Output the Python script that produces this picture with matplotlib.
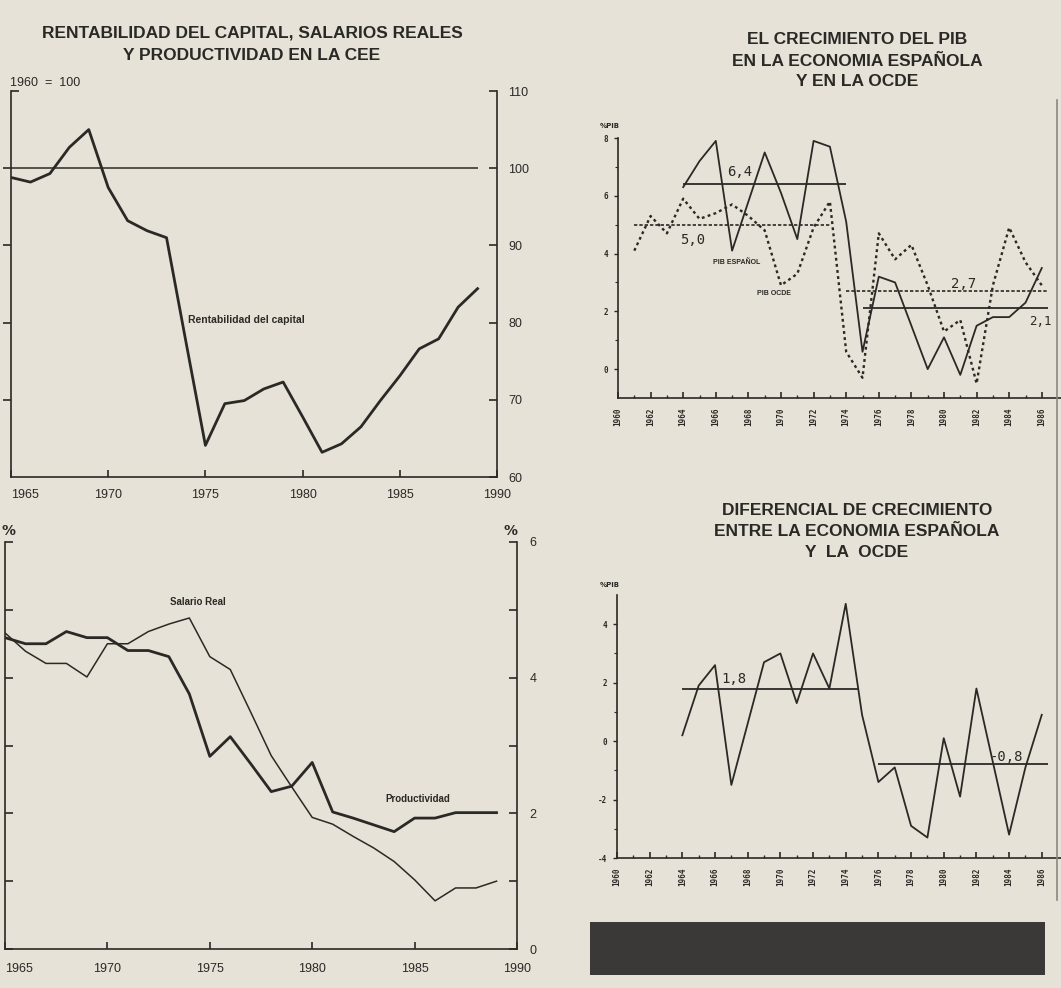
import matplotlib.pyplot as plt
import matplotlib.patches as mpatches

W, H = 1061, 988
PAPER = '#e6e2d7'
INK = '#2b2926'

# --- data -----------------------------------------------------------------
years_cee = list(range(1965, 1990))
rentabilidad = [98.8, 98.2, 99.3, 102.7, 105.0, 97.5, 93.2, 91.9, 91.0, 77.5,
                64.1, 69.5, 69.9, 71.4, 72.3, 67.8, 63.2, 64.3, 66.5, 69.9,
                73.1, 76.6, 77.9, 82.0, 84.4]
productividad = [4.59, 4.50, 4.50, 4.68, 4.59, 4.59, 4.40, 4.40, 4.31, 3.76,
                 2.84, 3.13, 2.73, 2.32, 2.40, 2.75, 2.02, 1.93, 1.83, 1.73,
                 1.93, 1.93, 2.01, 2.01, 2.01]
salario_real = [4.66, 4.39, 4.21, 4.21, 4.01, 4.50, 4.50, 4.68, 4.79, 4.88,
                4.31, 4.12, 3.49, 2.85, 2.39, 1.94, 1.84, 1.66, 1.49, 1.29,
                1.02, 0.71, 0.90, 0.90, 1.00]

years_es = list(range(1964, 1987))
pib_es = [6.3, 7.2, 7.9, 4.1, 5.8, 7.5, 6.1, 4.5, 7.9, 7.7, 5.1, 0.6,
          3.2, 3.0, 1.5, 0.0, 1.1, -0.2, 1.5, 1.8, 1.8, 2.3, 3.5]
years_ocde = list(range(1961, 1987))
pib_ocde = [4.1, 5.3, 4.7, 5.9, 5.2, 5.4, 5.7, 5.3, 4.8, 2.9, 3.3, 4.9, 5.8,
            0.6, -0.3, 4.7, 3.8, 4.3, 2.9, 1.3, 1.7, -0.5, 2.9, 4.9, 3.7, 2.9]
diferencial = [0.2, 1.9, 2.6, -1.5, 0.6, 2.7, 3.0, 1.3, 3.0, 1.8, 4.7, 0.9,
               -1.4, -0.9, -2.9, -3.3, 0.1, -1.9, 1.8, -0.7, -3.2, -0.9, 0.9]

# period averages: (from, to, value)
media_es = [(1964, 1974, 6.4), (1975, 1986.4, 2.1)]
media_ocde = [(1961, 1973, 5.0), (1974, 1986.4, 2.7)]
media_dif = [(1964, 1974.8, 1.8), (1976, 1986.4, -0.8)]

fig = plt.figure(figsize=(W / 100, H / 100), dpi=100, facecolor=PAPER)


def px_axes(x0, y0, x1, y1):
    ax = fig.add_axes([x0 / W, 1 - y1 / H, (x1 - x0) / W, (y1 - y0) / H])
    ax.set_facecolor('none')
    ax.spines['top'].set_visible(False)
    for s in ax.spines.values():
        s.set_color(INK)
        s.set_linewidth(1.2)
    return ax


def ftext(x, y, s, **kw):
    kw.setdefault('color', INK)
    fig.text(x / W, 1 - y / H, s, **kw)


TITLE = dict(fontsize=12.5, fontweight='bold', family='Liberation Sans',
             ha='center', va='center')
LBL = dict(family='Liberation Sans', fontsize=9, color=INK)

# --- top left: rentabilidad ------------------------------------------------
ax1 = px_axes(11, 91, 497, 477)
ax1.set_xlim(1965, 1990)
ax1.set_ylim(60, 110)
ax1.plot(years_cee, rentabilidad, color=INK, lw=2.0)
ax1.hlines(100, 1965, 1989, color=INK, lw=1.1)
ax1.spines['right'].set_visible(False)
ax1.set_xticks(range(1965, 1991, 5))
ax1.set_xticklabels(['1965', '1970', '1975', '1980', '1985', '1990'])
ax1.tick_params(axis='x', direction='in', length=5, width=1.2, pad=9, colors=INK)
for t in ax1.get_xticklabels():
    t.update(LBL)
ax1.set_yticks([70, 80, 90, 100])
ax1.set_yticks([110], minor=True)
ax1.tick_params(axis='y', which='major', direction='out', length=6, width=1.2,
                labelleft=False, colors=INK)
ax1.tick_params(axis='y', which='minor', direction='in', length=6, width=1.2,
                colors=INK)
sec1 = ax1.secondary_yaxis('right')
sec1.spines['right'].set_linewidth(1.2)
sec1.spines['right'].set_color(INK)
sec1.set_yticks(range(60, 111, 10))
sec1.tick_params(direction='in', length=6, width=1.2, pad=8, colors=INK)
for t in sec1.get_yticklabels():
    t.update(LBL)
ax1.text(1974.1, 80.3, 'Rentabilidad del capital', fontsize=7.5,
         fontweight='bold', family='Liberation Sans', color=INK, va='center')
ftext(10, 83, '1960  =  100', va='center', family='Liberation Sans', fontsize=9)
ftext(252, 33, 'RENTABILIDAD DEL CAPITAL, SALARIOS REALES', **TITLE)
ftext(252, 55, 'Y PRODUCTIVIDAD EN LA CEE', **TITLE)

# --- bottom left: salario real y productividad ------------------------------
ax2 = px_axes(5, 542, 517, 949)
ax2.set_xlim(1965, 1990)
ax2.set_ylim(0, 6)
ax2.plot(years_cee, salario_real, color=INK, lw=1.1)
ax2.plot(years_cee, productividad, color=INK, lw=2.0)
ax2.spines['right'].set_visible(False)
ax2.set_xticks(range(1965, 1991, 5))
ax2.set_xticklabels(['1965', '1970', '1975', '1980', '1985', '1990'])
ax2.tick_params(axis='x', direction='in', length=5, width=1.2, pad=10, colors=INK)
for t in ax2.get_xticklabels():
    t.update(LBL)
ax2.set_yticks(range(0, 7))
ax2.tick_params(axis='y', direction='in', length=6, width=1.2,
                labelleft=False, colors=INK)
sec2 = ax2.secondary_yaxis('right')
sec2.spines['right'].set_linewidth(1.2)
sec2.spines['right'].set_color(INK)
sec2.set_yticks(range(0, 7))
sec2.set_yticklabels(['0', '', '2', '', '4', '', '6'])
sec2.tick_params(direction='in', length=6, width=1.2, pad=9, colors=INK)
for t in sec2.get_yticklabels():
    t.update(LBL)
ax2.text(1973.06, 5.12, 'Salario Real', fontsize=7, fontweight='bold',
         family='Liberation Sans', color=INK, va='center')
ax2.text(1983.55, 2.21, 'Productividad', fontsize=7, fontweight='bold',
         family='Liberation Sans', color=INK, va='center')
ftext(9, 531, '%', fontsize=10, fontweight='bold', ha='center', va='center')
ftext(510, 531, '%', fontsize=10, fontweight='bold', ha='center', va='center')

# year labels at the left page edge: keep them inside the picture
for ax in (ax1, ax2):
    lab = ax.get_xticklabels()[0]
    lab.set_ha('left')
    lab.set_x(1965)

# --- right charts -----------------------------------------------------------
XMAX = 1960 + (W - 618) / 16.3
MONO = dict(family='DejaVu Sans Mono', fontweight='bold', color=INK)


def style_pib(ax, ylo, yhi, major):
    ax.set_xlim(1960, XMAX)
    ax.set_ylim(ylo, yhi)
    ax.spines['right'].set_visible(False)
    ax.set_xticks(range(1960, 1987, 2))
    ax.set_xticks(range(1961, 1987, 2), minor=True)
    ax.set_xticklabels([str(y) for y in range(1960, 1987, 2)], rotation=90,
                       fontsize=5.5, **MONO)
    ax.tick_params(axis='x', which='major', direction='in', length=4, width=1.2,
                   pad=7, colors=INK)
    ax.tick_params(axis='x', which='minor', direction='in', length=2.5,
                   width=1.0, colors=INK)
    ax.set_yticks(major)
    ax.set_yticks([v + 1 for v in major[:-1]], minor=True)
    ax.set_yticklabels([str(v) for v in major], fontsize=5.5, **MONO)
    ax.tick_params(axis='y', which='major', direction='out', length=3,
                   width=1.0, pad=4, colors=INK)
    ax.tick_params(axis='y', which='minor', direction='out', length=2,
                   width=0.8, colors=INK)


ax3 = px_axes(618, 138, W, 398)
style_pib(ax3, -1, 8, [0, 2, 4, 6, 8])
ax3.plot(years_es, pib_es, color=INK, lw=1.3)
ax3.plot(years_ocde, pib_ocde, color=INK, lw=1.7, ls=(0, (1.2, 1.4)))
for a, b, v in media_es:
    ax3.hlines(v, a, b, color=INK, lw=1.3)
for a, b, v in media_ocde:
    ax3.hlines(v, a, b, color=INK, lw=1.2, ls=(0, (2, 1.2)))
MT = dict(family='DejaVu Sans Mono', fontsize=10, color=INK, va='center')
ax3.text(1966.7, 6.83, '6,4', **MT)
ax3.text(1963.8, 4.48, '5,0', **MT)
ax3.text(1980.4, 2.93, '2,7', **MT)
ax3.text(1985.2, 1.66, '2,1', family='DejaVu Sans Mono', fontsize=9,
         color=INK, va='center')
ax3.text(1965.8, 3.69, 'PIB ESPAÑOL', fontsize=5, fontweight='bold',
         family='Liberation Sans', color=INK, va='center')
ax3.text(1968.5, 2.62, 'PIB OCDE', fontsize=5, fontweight='bold',
         family='Liberation Sans', color=INK, va='center')
ftext(610, 126, '%PIB', fontsize=5, fontweight='bold', ha='center', va='center')
ftext(857, 40, 'EL CRECIMIENTO DEL PIB', **TITLE)
ftext(857, 61, 'EN LA ECONOMIA ESPAÑOLA', **TITLE)
ftext(857, 82, 'Y EN LA OCDE', **TITLE)

ax4 = px_axes(617, 595, W, 858)
style_pib(ax4, -4, 5, [-4, -2, 0, 2, 4])
ax4.plot(years_es, diferencial, color=INK, lw=1.3)
for a, b, v in media_dif:
    ax4.hlines(v, a, b, color=INK, lw=1.3)
ax4.text(1966.4, 2.12, '1,8', **MT)
ax4.text(1982.8, -0.55, '-0,8', **MT)
ftext(610, 585, '%PIB', fontsize=5, fontweight='bold', ha='center', va='center')
ftext(857, 510, 'DIFERENCIAL DE CRECIMIENTO', **TITLE)
ftext(857, 531, 'ENTRE LA ECONOMIA ESPAÑOLA', **TITLE)
ftext(857, 552, 'Y  LA  OCDE', **TITLE)

# page fold at the right edge
fig.add_artist(plt.Line2D([1057 / W, 1057 / W], [1 - 100 / H, 1 - 900 / H],
                          transform=fig.transFigure, color='#8a8780', lw=1.2))

# dark printed band at the bottom right
fig.patches.append(mpatches.Rectangle((590 / W, 1 - 975 / H), 455 / W, 53 / H,
                                      transform=fig.transFigure,
                                      facecolor='#3a3937', edgecolor='none'))

fig.savefig('out.png', dpi=100, facecolor=PAPER)
